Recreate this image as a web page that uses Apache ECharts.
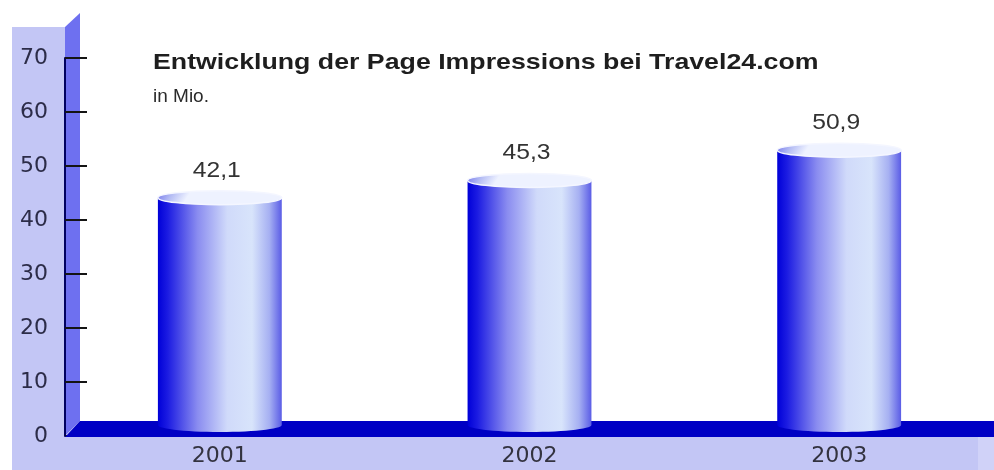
<!DOCTYPE html>
<html><head><meta charset="utf-8">
<script src="https://cdn.jsdelivr.net/npm/echarts@6/dist/echarts.min.js"></script>
<style>html,body{margin:0;padding:0;background:#fff}#c{width:994px;height:470px}</style>
</head><body><div id="c"></div>
<script>
const categories = ['2001', '2002', '2003'];
const impressions = [42.1, 45.3, 50.9];
const yMin = 0, yMax = 70, yStep = 10;
const titleText = 'Entwicklung der Page Impressions bei Travel24.com';
const subtitleText = 'in Mio.';

const W = 994, H = 470;
const G = { left: 65, top: 58, bottom: 34, right: 0 };
const zeroY = H - G.bottom;
const depth = 15;
const FONT = '"Liberation Sans", Arial, Helvetica, sans-serif';
const AXFONT = '"DejaVu Sans", "Liberation Sans", sans-serif';

const chart = echarts.init(document.getElementById('c'), null, { renderer: 'canvas' });

const bodyGrad = new echarts.graphic.LinearGradient(0, 0, 1, 0, [
  { offset: 0, color: '#0000d8' },
  { offset: 0.08, color: '#1c1ce2' },
  { offset: 0.32, color: '#8a8cf0' },
  { offset: 0.56, color: '#d0dafa' },
  { offset: 0.76, color: '#d8e4fb' },
  { offset: 0.9, color: '#a6b0f2' },
  { offset: 1, color: '#5a5ce6' }
]);
const capGrad = new echarts.graphic.LinearGradient(0, 0, 0.2, 1, [
  { offset: 0, color: '#6e70ea' },
  { offset: 0.5, color: '#b4bcf4' },
  { offset: 1, color: '#eef2ff' }
]);

function fmt(v) { return v.toFixed(1).replace('.', ','); }

chart.setOption({
  animation: false,
  backgroundColor: '#ffffff',
  grid: { left: G.left, top: G.top, bottom: G.bottom, right: G.right, containLabel: false },
  graphic: [
    { type: 'rect', z: -20, shape: { x: 12, y: 27, width: G.left - 12, height: H - 27 }, style: { fill: '#c3c6f5' } },
    { type: 'rect', z: -20, shape: { x: 12, y: zeroY, width: 966, height: H - zeroY }, style: { fill: '#c3c6f5' } },
    { type: 'rect', z: -20, shape: { x: 978, y: zeroY, width: 16, height: H - zeroY }, style: { fill: '#d0d2f8' } },
    { type: 'polygon', z: -10, shape: { points: [[G.left, 27], [G.left + depth, 13], [G.left + depth, zeroY - depth], [G.left, zeroY]] }, style: { fill: '#6e70f0' } },
    { type: 'polygon', z: 1, shape: { points: [[G.left, zeroY + 1], [G.left + depth, zeroY - depth], [W, zeroY - depth], [W, zeroY + 1]] }, style: { fill: '#0000c4' } },
    { type: 'text', z: 5, x: 153, y: 63, scaleX: 1.215, style: { text: titleText, x: 0, y: 0, verticalAlign: 'middle', textVerticalAlign: 'middle', fontSize: 22, fontWeight: 'bold', fontFamily: FONT, fill: '#1e1e1e' } },
    { type: 'text', z: 5, x: 153, y: 97, scaleX: 1.0, style: { text: subtitleText, x: 0, y: 0, verticalAlign: 'middle', textVerticalAlign: 'middle', fontSize: 19, fontFamily: FONT, fill: '#2a2a2a' } }
  ],
  xAxis: {
    type: 'category',
    data: categories,
    axisLine: { show: false },
    axisTick: { show: false },
    axisLabel: { margin: 9, fontSize: 22, fontFamily: AXFONT, color: '#333340' },
    splitLine: { show: false }
  },
  yAxis: {
    type: 'value',
    min: yMin, max: yMax, interval: yStep,
    axisLine: { show: true, lineStyle: { color: '#000060', width: 2 } },
    axisTick: { show: true, inside: true, length: 22, lineStyle: { color: '#141414', width: 2 } },
    axisLabel: { margin: 17, fontSize: 22, fontFamily: AXFONT, color: '#2c2c48' },
    splitLine: { show: false }
  },
  series: [{
    type: 'custom',
    z: 3,
    data: impressions.map((v, i) => [i, v]),
    encode: { x: 0, y: 1 },
    renderItem: function (params, api) {
      const idx = api.value(0);
      const v = api.value(1);
      const p0 = api.coord([idx, 0]);
      const p1 = api.coord([idx, v]);
      const band = api.size([1, 0])[0];
      const rx = band * 0.2;
      const ry = 7;
      const cx = p0[0];
      const yb = p0[1] - 11;
      const yt = p1[1] - 11;
      const pts = [[cx - rx, yt], [cx + rx, yt]];
      for (let i = 0; i <= 30; i++) {
        const t = Math.PI * i / 30;
        pts.push([cx + rx * Math.cos(t), yb + ry * Math.sin(t)]);
      }
      return {
        type: 'group',
        children: [
          { type: 'polygon', shape: { points: pts }, style: { fill: bodyGrad } },
          { type: 'ellipse', shape: { cx: cx, cy: yt, rx: rx, ry: ry }, style: { fill: capGrad, stroke: '#f4f6ff', lineWidth: 1.5 } },
          { type: 'text', x: cx - 3, y: yt - 27, scaleX: 1.12, style: { text: fmt(v), x: 0, y: 0, align: 'center', verticalAlign: 'middle', textAlign: 'center', textVerticalAlign: 'middle', fontSize: 22, fontFamily: FONT, fill: '#333333' } }
        ]
      };
    }
  }]
});
</script>
</body></html>
